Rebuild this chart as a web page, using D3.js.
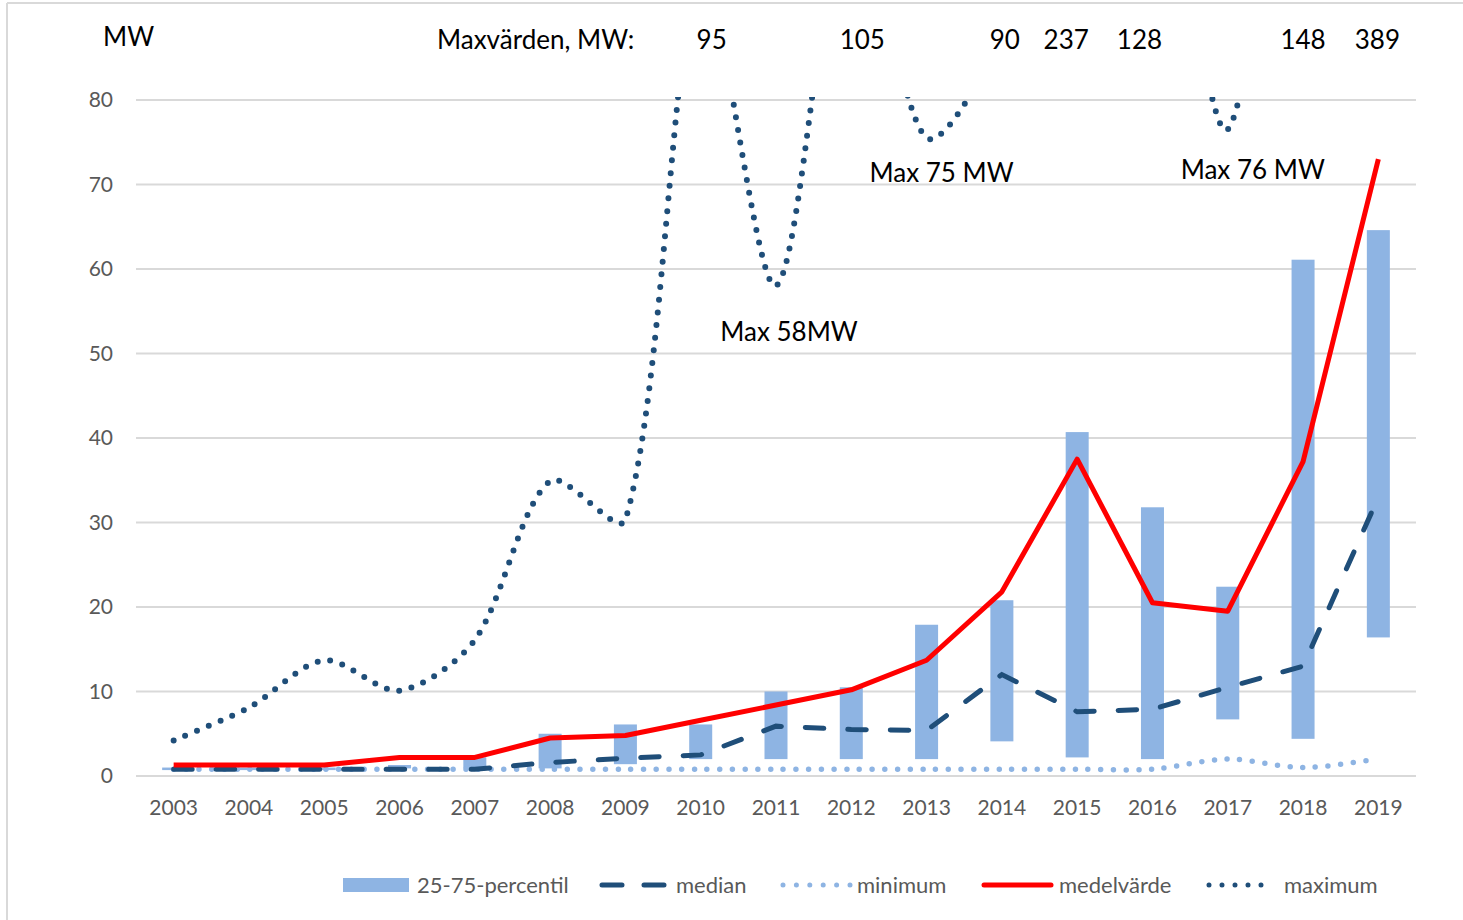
<!DOCTYPE html>
<html>
<head>
<meta charset="utf-8">
<script src="https://cdn.jsdelivr.net/npm/d3@7"></script>
<style>
  body { margin: 0; background: #fff; }
  text { font-family: Lato, "Open Sans", sans-serif; }
  .tick { fill: #595959; font-size: 21px; }
  .lbl { fill: #000; font-size: 26px; }
  .leg { fill: #595959; font-size: 22px; }
</style>
</head>
<body>
<div id="vis"></div>
<script>
// values
var years   = [2003, 2004, 2005, 2006, 2007, 2008, 2009, 2010, 2011, 2012, 2013, 2014, 2015, 2016, 2017, 2018, 2019];
var p25     = [0.7, 0.7, 0.7, 0.9, 0.9, 0.9, 1.4, 2.0, 2.0, 2.0, 2.0, 4.1, 2.2, 2.0, 6.7, 4.4, 16.4];
var p75     = [1.0, 1.0, 1.0, 1.3, 2.2, 5.0, 6.1, 6.1, 10.0, 10.5, 17.9, 20.8, 40.7, 31.8, 22.4, 61.1, 64.6];
var median  = [0.8, 0.8, 0.8, 0.8, 0.8, 1.6, 2.1, 2.5, 5.9, 5.5, 5.4, 12.0, 7.6, 7.9, 10.5, 13.0, 33.0];
var minimum = [0.8, 0.8, 0.8, 0.8, 0.8, 0.8, 0.8, 0.8, 0.8, 0.8, 0.8, 0.8, 0.8, 0.8, 2.0, 1.0, 2.0];
var mean    = [1.3, 1.3, 1.3, 2.2, 2.2, 4.5, 4.8, 6.6, 8.4, 10.2, 13.7, 21.8, 37.5, 20.5, 19.5, 37.2, 73.0];
var maximum = [4.2, 8.1, 13.7, 10.1, 16.1, 34.9, 30.3, 95, 58, 105, 75.5, 90, 237, 128, 76.5, 148, 389];
var yTicks  = [0, 10, 20, 30, 40, 50, 60, 70, 80];

// top row "Maxvärden, MW:" labels
var maxLabelYears = [2010, 2012, 2014, 2015, 2016, 2018, 2019];
var maxLabelTexts = ["95", "105", "90", "237", "128", "148", "389"];
// callouts inside the plot
var noteTexts = ["Max 58MW", "Max 75 MW", "Max 76 MW"];
var noteYears = [2011, 2013, 2017];
var noteVals  = [52.5, 71.4, 71.7];

var w = 1463, h = 920,
    pLeft = 136, pRight = 1416, pTop = 100, pBottom = 776;

var x = d3.scaleLinear().domain([2002.5, 2019.5]).range([pLeft, pRight]);
var y = d3.scaleLinear().domain([0, 80]).range([pBottom, pTop]);

var svg = d3.select("#vis").append("svg")
    .attr("width", w)
    .attr("height", h);

// outer frame (only top and left edges show)
svg.append("line").attr("x1", 7).attr("y1", 3).attr("x2", w).attr("y2", 3)
    .attr("stroke", "#d9d9d9").attr("stroke-width", 2);
svg.append("line").attr("x1", 7).attr("y1", 3).attr("x2", 7).attr("y2", h)
    .attr("stroke", "#d9d9d9").attr("stroke-width", 2);

svg.append("clipPath").attr("id", "plot")
    .append("rect").attr("x", pLeft).attr("y", pTop - 3)
    .attr("width", pRight - pLeft).attr("height", pBottom - pTop + 20);

// gridlines
svg.selectAll(".grid")
    .data(yTicks)
    .enter().append("line")
    .attr("class", "grid")
    .attr("x1", pLeft).attr("x2", pRight)
    .attr("y1", function(d) { return y(d); })
    .attr("y2", function(d) { return y(d); })
    .attr("stroke", "#d9d9d9")
    .attr("stroke-width", 2);

// y labels
svg.selectAll(".yLabel")
    .data(yTicks)
    .enter().append("text")
    .attr("class", "tick")
    .attr("x", 113)
    .attr("y", function(d) { return y(d); })
    .attr("dy", 7)
    .attr("text-anchor", "end")
    .text(String);

// x labels
svg.selectAll(".xLabel")
    .data(years)
    .enter().append("text")
    .attr("class", "tick")
    .attr("x", function(d) { return x(d); })
    .attr("y", 815)
    .attr("text-anchor", "middle")
    .text(String);

// 25-75 bars
var barW = 23;
svg.selectAll(".bar")
    .data(years)
    .enter().append("rect")
    .attr("class", "bar")
    .attr("x", function(d) { return x(d) - barW / 2; })
    .attr("width", barW)
    .attr("y", function(d, i) { return y(p75[i]); })
    .attr("height", function(d, i) { return y(p25[i]) - y(p75[i]); })
    .attr("fill", "#8eb4e3");

function pts(vals) {
    return years.map(function(d, i) { return [x(d), y(vals[i])]; });
}
var straight = d3.line();

// spreadsheet-style smoothing: bezier handles split by neighbouring chord lengths
function dist(a, b) { return Math.hypot(b[0] - a[0], b[1] - a[1]); }
function smooth(p) {
    var f = 0.3, path = d3.path();
    path.moveTo(p[0][0], p[0][1]);
    for (var i = 0; i < p.length - 1; i++) {
        var p0 = p[Math.max(i - 1, 0)], p1 = p[i], p2 = p[i + 1], p3 = p[Math.min(i + 2, p.length - 1)];
        var d01 = dist(p0, p1), d12 = dist(p1, p2), d23 = dist(p2, p3);
        var a = d12 / (d01 + d12), b = d12 / (d12 + d23);
        path.bezierCurveTo(
            p1[0] + (p2[0] - p0[0]) * f * a, p1[1] + (p2[1] - p0[1]) * f * a,
            p2[0] - (p3[0] - p1[0]) * f * b, p2[1] - (p3[1] - p1[1]) * f * b,
            p2[0], p2[1]);
    }
    return path.toString();
}

// minimum
svg.append("path")
    .attr("d", smooth(pts(minimum)))
    .attr("fill", "none")
    .attr("stroke", "#8eb4e3")
    .attr("stroke-width", 5.5)
    .attr("stroke-linecap", "round")
    .attr("stroke-dasharray", "0 12.7");

// median
svg.append("path")
    .attr("d", straight(pts(median)))
    .attr("fill", "none")
    .attr("stroke", "#1f4e79")
    .attr("stroke-width", 5)
    .attr("stroke-linecap", "round")
    .attr("stroke-dasharray", "18.5 24");

// mean
svg.append("path")
    .attr("d", straight(pts(mean)))
    .attr("fill", "none")
    .attr("stroke", "#ff0000")
    .attr("stroke-width", 5)
    .attr("stroke-linejoin", "round");

// maximum, clipped at the top of the plot
svg.append("path")
    .attr("d", smooth(pts(maximum)))
    .attr("clip-path", "url(#plot)")
    .attr("fill", "none")
    .attr("stroke", "#1f4e79")
    .attr("stroke-width", 6)
    .attr("stroke-linecap", "round")
    .attr("stroke-dasharray", "0 12.7");

// texts
svg.append("text").attr("class", "lbl").attr("x", 103).attr("y", 46).text("MW");
svg.append("text").attr("class", "lbl").attr("x", 437).attr("y", 49).text("Maxvärden, MW:");

var maxDx = [11, 11, 3, -11, -13, 0, -1];
svg.selectAll(".maxLabel")
    .data(maxLabelYears)
    .enter().append("text")
    .attr("class", "lbl")
    .attr("x", function(d, i) { return x(d) + maxDx[i]; })
    .attr("y", 49)
    .attr("text-anchor", "middle")
    .text(function(d, i) { return maxLabelTexts[i]; });

var noteDx = [13, 15, 25];
svg.selectAll(".note")
    .data(noteTexts)
    .enter().append("text")
    .attr("class", "lbl")
    .attr("x", function(d, i) { return x(noteYears[i]) + noteDx[i]; })
    .attr("y", function(d, i) { return y(noteVals[i]); })
    .attr("dy", 9)
    .attr("text-anchor", "middle")
    .text(String);

// legend
var ly = 885;
svg.append("rect").attr("x", 343).attr("y", ly - 7).attr("width", 66).attr("height", 14).attr("fill", "#8eb4e3");
svg.append("text").attr("class", "leg").attr("x", 417).attr("y", ly + 8).text("25-75-percentil");

svg.append("line").attr("x1", 602).attr("x2", 664).attr("y1", ly).attr("y2", ly)
    .attr("stroke", "#1f4e79").attr("stroke-width", 5).attr("stroke-linecap", "round")
    .attr("stroke-dasharray", "20 22");
svg.append("text").attr("class", "leg").attr("x", 676).attr("y", ly + 8).text("median");

svg.append("line").attr("x1", 783).attr("x2", 850).attr("y1", ly).attr("y2", ly)
    .attr("stroke", "#8eb4e3").attr("stroke-width", 5).attr("stroke-linecap", "round")
    .attr("stroke-dasharray", "0 13.4");
svg.append("text").attr("class", "leg").attr("x", 857).attr("y", ly + 8).text("minimum");

svg.append("line").attr("x1", 984).attr("x2", 1051).attr("y1", ly).attr("y2", ly)
    .attr("stroke", "#ff0000").attr("stroke-width", 5).attr("stroke-linecap", "round");
svg.append("text").attr("class", "leg").attr("x", 1059).attr("y", ly + 8).text("medelvärde");

svg.append("line").attr("x1", 1209).attr("x2", 1274).attr("y1", ly).attr("y2", ly)
    .attr("stroke", "#1f4e79").attr("stroke-width", 5).attr("stroke-linecap", "round")
    .attr("stroke-dasharray", "0 13");
svg.append("text").attr("class", "leg").attr("x", 1284).attr("y", ly + 8).text("maximum");
</script>
</body>
</html>
